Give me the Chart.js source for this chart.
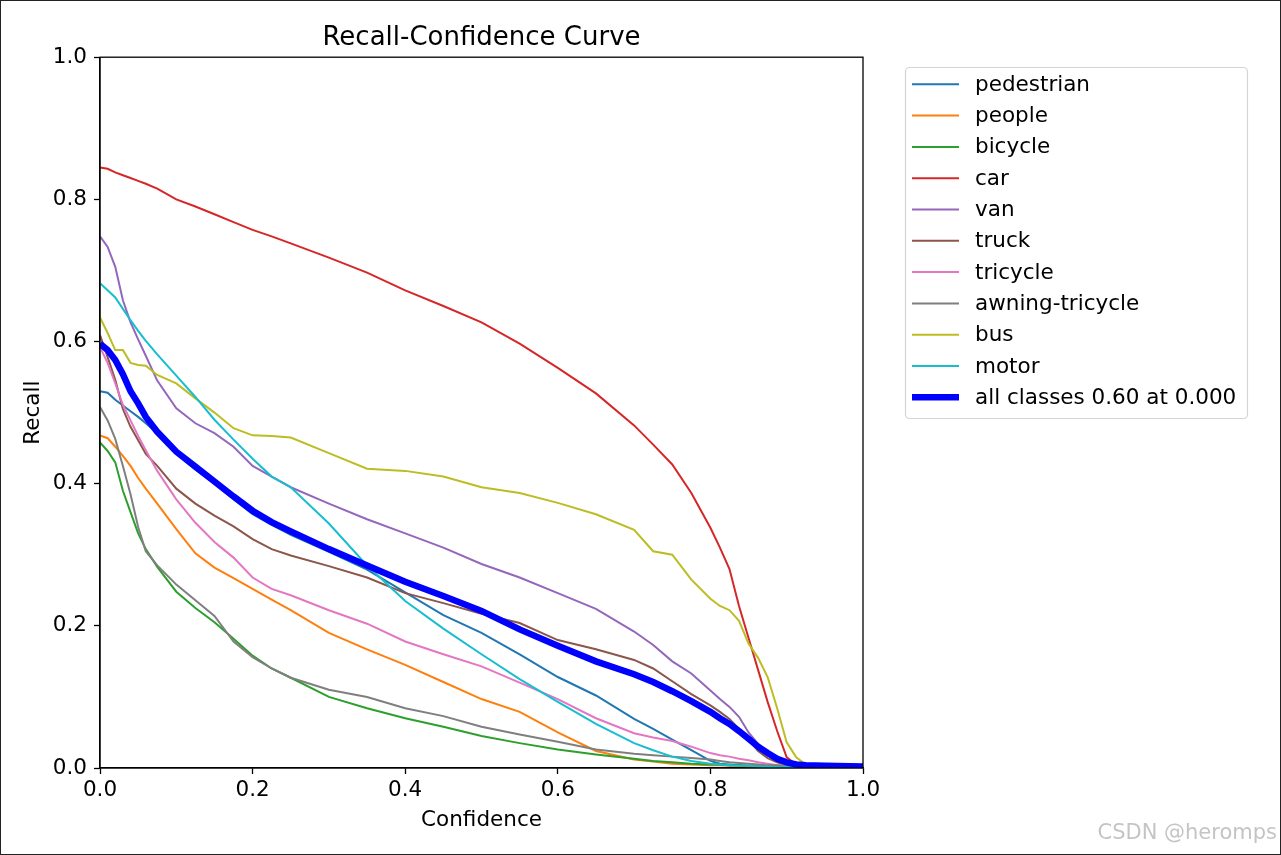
<!DOCTYPE html>
<html>
<head>
<meta charset="utf-8">
<script src="https://cdn.jsdelivr.net/npm/chart.js@4.4.1/dist/chart.umd.min.js"></script>
<style>
  html, body { margin: 0; padding: 0; background: #fff; }
  canvas { display: block; }
</style>
</head>
<body>
<canvas id="rc" width="1281" height="855"></canvas>
<script>
// x values (confidence) shared by every curve
const confidence = [0, 0.01, 0.02, 0.03, 0.04, 0.05, 0.06, 0.075,
  0.1, 0.125, 0.15, 0.175, 0.2, 0.225, 0.25,
  0.3, 0.35, 0.4, 0.45, 0.5, 0.55, 0.6, 0.65, 0.7,
  0.725, 0.75, 0.775, 0.8, 0.8125, 0.825, 0.8375, 0.85, 0.8625, 0.875, 0.8875, 0.9, 0.9125, 0.925, 0.95, 1.0];

// recall, one list per class
const pedestrian = [0.530, 0.528, 0.518, 0.510, 0.502, 0.494, 0.485, 0.471,
  0.443, 0.420, 0.400, 0.378, 0.357, 0.342, 0.328,
  0.304, 0.279, 0.247, 0.215, 0.190, 0.160, 0.128, 0.102, 0.069,
  0.055, 0.040, 0.025, 0.010, 0.006, 0.005, 0.004, 0.003, 0.003, 0.002, 0.002, 0.001, 0.001, 0.001, 0.001, 0];
const people = [0.468, 0.464, 0.452, 0.439, 0.425, 0.408, 0.393, 0.372,
  0.336, 0.302, 0.282, 0.267, 0.252, 0.237, 0.222,
  0.190, 0.167, 0.145, 0.121, 0.097, 0.079, 0.050, 0.024, 0.012,
  0.009, 0.006, 0.005, 0.004, 0.004, 0.003, 0.003, 0.002, 0.002, 0.001, 0.001, 0, 0, 0, 0, 0];
const bicycle = [0.458, 0.446, 0.430, 0.390, 0.360, 0.330, 0.308, 0.283,
  0.248, 0.225, 0.205, 0.182, 0.158, 0.140, 0.127,
  0.100, 0.084, 0.070, 0.058, 0.045, 0.035, 0.026, 0.019, 0.013,
  0.010, 0.008, 0.006, 0.005, 0.005, 0.004, 0.004, 0.003, 0.003, 0.002, 0.002, 0.001, 0.001, 0, 0, 0];
const car = [0.845, 0.843, 0.838, 0.834, 0.830, 0.826, 0.822, 0.815,
  0.800, 0.790, 0.779, 0.768, 0.757, 0.748, 0.738,
  0.718, 0.697, 0.672, 0.650, 0.627, 0.597, 0.563, 0.527, 0.482,
  0.455, 0.427, 0.387, 0.338, 0.310, 0.280, 0.228, 0.183, 0.138, 0.093, 0.052, 0.015, 0.005, 0.003, 0.002, 0];
const van = [0.748, 0.733, 0.705, 0.658, 0.627, 0.603, 0.580, 0.545,
  0.506, 0.485, 0.471, 0.452, 0.425, 0.410, 0.395,
  0.372, 0.350, 0.330, 0.310, 0.287, 0.268, 0.246, 0.224, 0.192,
  0.173, 0.150, 0.133, 0.109, 0.097, 0.086, 0.072, 0.050, 0.034, 0.022, 0.012, 0.006, 0.004, 0.003, 0.002, 0];
const truck = [0.609, 0.578, 0.546, 0.505, 0.480, 0.461, 0.442, 0.425,
  0.393, 0.372, 0.355, 0.340, 0.322, 0.308, 0.299,
  0.284, 0.268, 0.246, 0.232, 0.217, 0.204, 0.180, 0.167, 0.152,
  0.140, 0.122, 0.104, 0.088, 0.079, 0.069, 0.055, 0.040, 0.024, 0.014, 0.008, 0.004, 0.002, 0.002, 0.001, 0];
const tricycle = [0.592, 0.570, 0.541, 0.511, 0.489, 0.467, 0.447, 0.418,
  0.378, 0.345, 0.318, 0.296, 0.268, 0.252, 0.243,
  0.222, 0.203, 0.178, 0.160, 0.143, 0.120, 0.097, 0.070, 0.049,
  0.043, 0.038, 0.030, 0.021, 0.018, 0.016, 0.013, 0.011, 0.008, 0.006, 0.004, 0.003, 0.002, 0.002, 0.001, 0];
const awningTricycle = [0.508, 0.489, 0.463, 0.425, 0.385, 0.339, 0.305, 0.285,
  0.258, 0.236, 0.214, 0.178, 0.156, 0.140, 0.127,
  0.110, 0.100, 0.084, 0.073, 0.058, 0.047, 0.037, 0.026, 0.020,
  0.018, 0.016, 0.014, 0.012, 0.010, 0.008, 0.007, 0.006, 0.005, 0.004, 0.004, 0.003, 0.002, 0.002, 0.001, 0];
const bus = [0.634, 0.612, 0.588, 0.588, 0.570, 0.567, 0.566, 0.553,
  0.541, 0.520, 0.500, 0.478, 0.468, 0.467, 0.465,
  0.443, 0.421, 0.418, 0.410, 0.395, 0.387, 0.373, 0.357, 0.335,
  0.305, 0.300, 0.265, 0.238, 0.228, 0.222, 0.207, 0.175, 0.155, 0.128, 0.084, 0.036, 0.015, 0.005, 0.003, 0.001];
const motor = [0.682, 0.672, 0.662, 0.646, 0.630, 0.615, 0.601, 0.582,
  0.552, 0.522, 0.490, 0.462, 0.435, 0.410, 0.395,
  0.344, 0.285, 0.235, 0.196, 0.160, 0.125, 0.093, 0.062, 0.035,
  0.025, 0.016, 0.010, 0.006, 0.005, 0.004, 0.003, 0.003, 0.002, 0.002, 0.001, 0.001, 0.001, 0, 0, 0];
const allClasses = [0.597, 0.588, 0.574, 0.554, 0.530, 0.513, 0.494, 0.473,
  0.445, 0.424, 0.403, 0.382, 0.362, 0.346, 0.333,
  0.308, 0.285, 0.262, 0.242, 0.221, 0.195, 0.172, 0.150, 0.132,
  0.121, 0.108, 0.094, 0.079, 0.070, 0.062, 0.052, 0.041, 0.030, 0.021, 0.013, 0.008, 0.005, 0.004, 0.003, 0.002];

const classNames = ['pedestrian', 'people', 'bicycle', 'car', 'van', 'truck', 'tricycle', 'awning-tricycle', 'bus', 'motor'];
const classValues = [pedestrian, people, bicycle, car, van, truck, tricycle, awningTricycle, bus, motor];
const classColors = ['#1f77b4', '#ff7f0e', '#2ca02c', '#d62728', '#9467bd', '#8c564b', '#e377c2', '#7f7f7f', '#bcbd22', '#17becf'];
const xTicks = [0, 0.2, 0.4, 0.6, 0.8, 1.0];
const yTicks = [0, 0.2, 0.4, 0.6, 0.8, 1.0];

const FONT = 'DejaVu Sans';

const datasets = classNames.map((name, i) => ({
  label: name,
  data: classValues[i],
  borderColor: classColors[i],
  backgroundColor: classColors[i],
  borderWidth: 2,
  pointRadius: 0,
  tension: 0,
  order: 10 - i
}));
datasets.push({
  label: 'all classes 0.60 at 0.000',
  data: allClasses,
  borderColor: '#0000ff',
  backgroundColor: '#0000ff',
  borderWidth: 6.5,
  pointRadius: 0,
  tension: 0,
  order: 0
});

// spines on top/right, the legend box, frame and the watermark
const decorations = {
  id: 'decorations',
  afterDatasetsDraw(chart) {
    const {ctx, chartArea: a} = chart;
    ctx.save();
    ctx.strokeStyle = '#000';
    ctx.lineWidth = 1.3;
    ctx.strokeRect(a.left, a.top, a.right - a.left, a.bottom - a.top);
    ctx.restore();
  },
  afterDraw(chart) {
    const ctx = chart.ctx;
    ctx.save();
    // legend
    const bx = 905, by = 67, bw = 342, bh = 351, r = 4;
    ctx.beginPath();
    ctx.roundRect(bx + 0.5, by + 0.5, bw, bh, r);
    ctx.fillStyle = 'rgba(255,255,255,0.8)';
    ctx.fill();
    ctx.strokeStyle = '#d4d4d4';
    ctx.lineWidth = 1.2;
    ctx.stroke();
    ctx.font = '21.5px "' + FONT + '"';
    ctx.textBaseline = 'middle';
    ctx.textAlign = 'left';
    chart.data.datasets.forEach((ds, i) => {
      const y = 84.3 + i * 31.3;
      ctx.beginPath();
      ctx.moveTo(912, y);
      ctx.lineTo(959, y);
      ctx.strokeStyle = ds.borderColor;
      ctx.lineWidth = ds.borderWidth;
      ctx.stroke();
      ctx.fillStyle = '#000';
      ctx.fillText(ds.label, 975, y + 1);
    });
    // watermark
    ctx.font = '21px "' + FONT + '"';
    ctx.textAlign = 'right';
    ctx.fillStyle = 'rgba(190,190,190,0.9)';
    ctx.fillText('CSDN @heromps', 1277, 834);
    // outer frame
    ctx.strokeStyle = '#222';
    ctx.lineWidth = 2;
    ctx.strokeRect(0, 0, 1281, 855);
    ctx.restore();
  }
};

const axisCommon = {
  type: 'linear',
  min: 0,
  max: 1,
  border: {display: true, color: '#000', width: 1.3},
  grid: {drawOnChartArea: false, drawTicks: true, tickLength: 6, tickWidth: 1.3, tickColor: '#000'},
};

new Chart(document.getElementById('rc'), {
  type: 'line',
  data: {labels: confidence, datasets: datasets},
  plugins: [decorations],
  options: {
    responsive: false,
    animation: false,
    events: [],
    layout: {padding: {left: 0, right: 418, top: 0, bottom: 0}},
    plugins: {
      legend: {display: false},
      tooltip: {enabled: false},
      title: {
        display: true,
        text: 'Recall-Confidence Curve',
        fullSize: false,
        color: '#000',
        font: {family: FONT, size: 26, weight: 'normal'},
        padding: {top: 23, bottom: 3}
      }
    },
    scales: {
      x: Object.assign({}, axisCommon, {
        afterBuildTicks: s => { s.ticks = xTicks.map(v => ({value: v})); },
        afterFit: s => { s.height = 87; },
        ticks: {color: '#000', font: {family: FONT, size: 21.5}, padding: 4, maxRotation: 0,
          callback: v => Number(v).toFixed(1)},
        title: {display: true, text: 'Confidence', color: '#000', font: {family: FONT, size: 21.5},
          padding: {top: 0, bottom: 22}}
      }),
      y: Object.assign({}, axisCommon, {
        afterBuildTicks: s => { s.ticks = yTicks.map(v => ({value: v})); },
        afterFit: s => { s.width = 100; },
        ticks: {color: '#000', font: {family: FONT, size: 21.5}, padding: 7,
          callback: v => Number(v).toFixed(1)},
        title: {display: true, text: 'Recall', color: '#000', font: {family: FONT, size: 21.5},
          padding: {top: 21, bottom: 0}}
      })
    }
  }
});
</script>
</body>
</html>
